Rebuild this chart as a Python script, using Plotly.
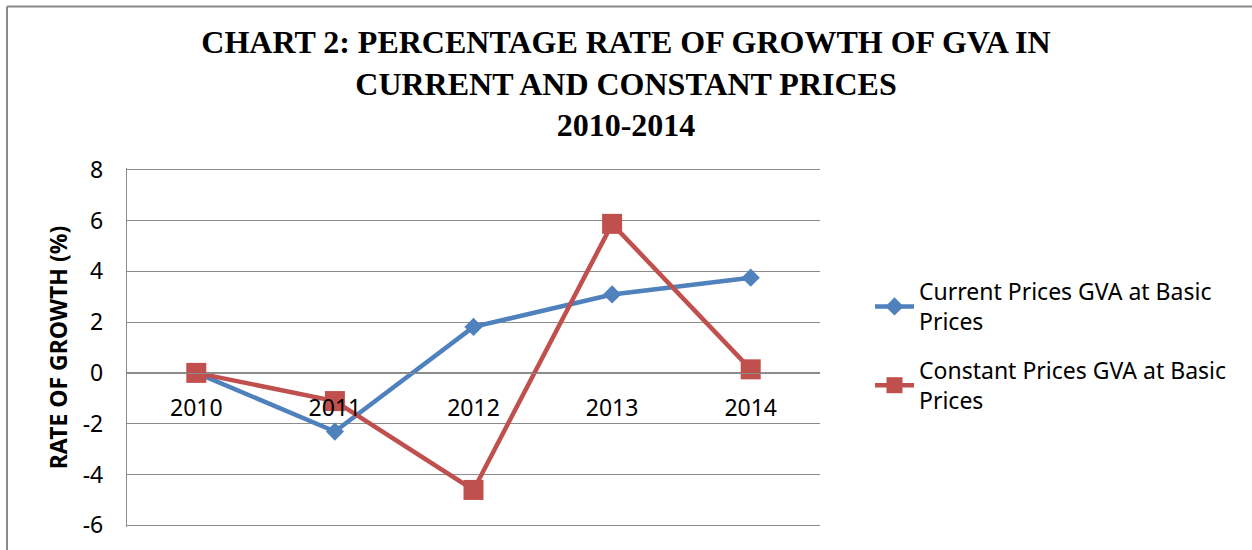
import plotly.graph_objects as go

years = ["2010", "2011", "2012", "2013", "2014"]
current_prices = [0.0, -2.31, 1.81, 3.09, 3.75]
constant_prices = [0.0, -1.11, -4.61, 5.87, 0.14]
series_names = ["Current Prices GVA at Basic<br>Prices", "Constant Prices GVA at Basic<br>Prices"]
y_ticks = [-6, -4, -2, 0, 2, 4, 6, 8]
y_tick_labels = [str(v) for v in y_ticks]

BLUE = "#4F81BD"
RED = "#C0504D"
GRID = "#8C8C8C"
BODY_FONT = "Noto Sans"

fig = go.Figure()
fig.add_trace(go.Scatter(
    x=years, y=current_prices, mode="lines+markers", name=series_names[0],
    legendgroup="a",
    line=dict(color=BLUE, width=4.5),
    marker=dict(symbol="diamond", size=14, color=BLUE),
))
fig.add_trace(go.Scatter(
    x=years, y=constant_prices, mode="lines+markers", name=series_names[1],
    legendgroup="b",
    line=dict(color=RED, width=4.5),
    marker=dict(symbol="square", size=20, color=RED),
))

L, R, T, B = 127, 432, 168, 23
W, H = 1252, 550
pw, ph = W - L - R, H - T - B
pad = 0.07
y_lo, y_hi = y_ticks[0] - pad, y_ticks[-1] + pad

def px_x(p):
    return (p - L) / pw

def px_y(p):
    return (H - B - p) / ph

fig.update_layout(
    width=W, height=H,
    margin=dict(l=L, r=R, t=T, b=B, autoexpand=False),
    paper_bgcolor="white", plot_bgcolor="white",
    title=dict(
        text="CHART 2: PERCENTAGE RATE OF GROWTH OF GVA IN<br>CURRENT AND CONSTANT PRICES<br>2010-2014",
        font=dict(family="Liberation Serif", size=32, color="black", weight="bold"),
        x=0.5, xref="container", xanchor="center",
        y=1 - 53 / H, yref="container", yanchor="top",
    ),
    showlegend=True,
    legend=dict(
        x=px_x(870), xanchor="left", y=px_y(270), yanchor="top",
        font=dict(family=BODY_FONT, size=23, color="black"),
        itemwidth=39, traceorder="grouped", tracegroupgap=16,
        bgcolor="rgba(0,0,0,0)",
    ),
    xaxis=dict(
        type="category", range=[-0.5, 4.5],
        anchor="free", position=(0 - y_lo) / (y_hi - y_lo),
        showgrid=False, zeroline=False, showline=True, linecolor=GRID, linewidth=1.3,
        ticks="", ticklabelstandoff=14,
        tickfont=dict(family=BODY_FONT, size=23, color="black"),
    ),
    yaxis=dict(
        range=[y_lo, y_hi], tickvals=y_ticks, ticktext=y_tick_labels,
        showgrid=True, gridcolor=GRID, gridwidth=1.3,
        zeroline=False, showline=True, linecolor=GRID, linewidth=1.3,
        ticks="", ticklabelstandoff=18,
        tickfont=dict(family=BODY_FONT, size=23, color="black"),
        title=dict(text="<b>RATE OF GROWTH (%)</b>", standoff=8,
                   font=dict(family=BODY_FONT, size=23, color="black")),
    ),
    shapes=[
        dict(type="line", xref="paper", yref="paper",
             x0=px_x(7), x1=px_x(W + 5), y0=px_y(6.5), y1=px_y(6.5),
             line=dict(color="#8A8A8A", width=2)),
        dict(type="line", xref="paper", yref="paper",
             x0=px_x(7), x1=px_x(7), y0=px_y(6.5), y1=px_y(H + 5),
             line=dict(color="#8A8A8A", width=2)),
    ],
)

fig.write_html("out.html", config={"displayModeBar": False},
               post_script="document.body.style.margin='0';")
